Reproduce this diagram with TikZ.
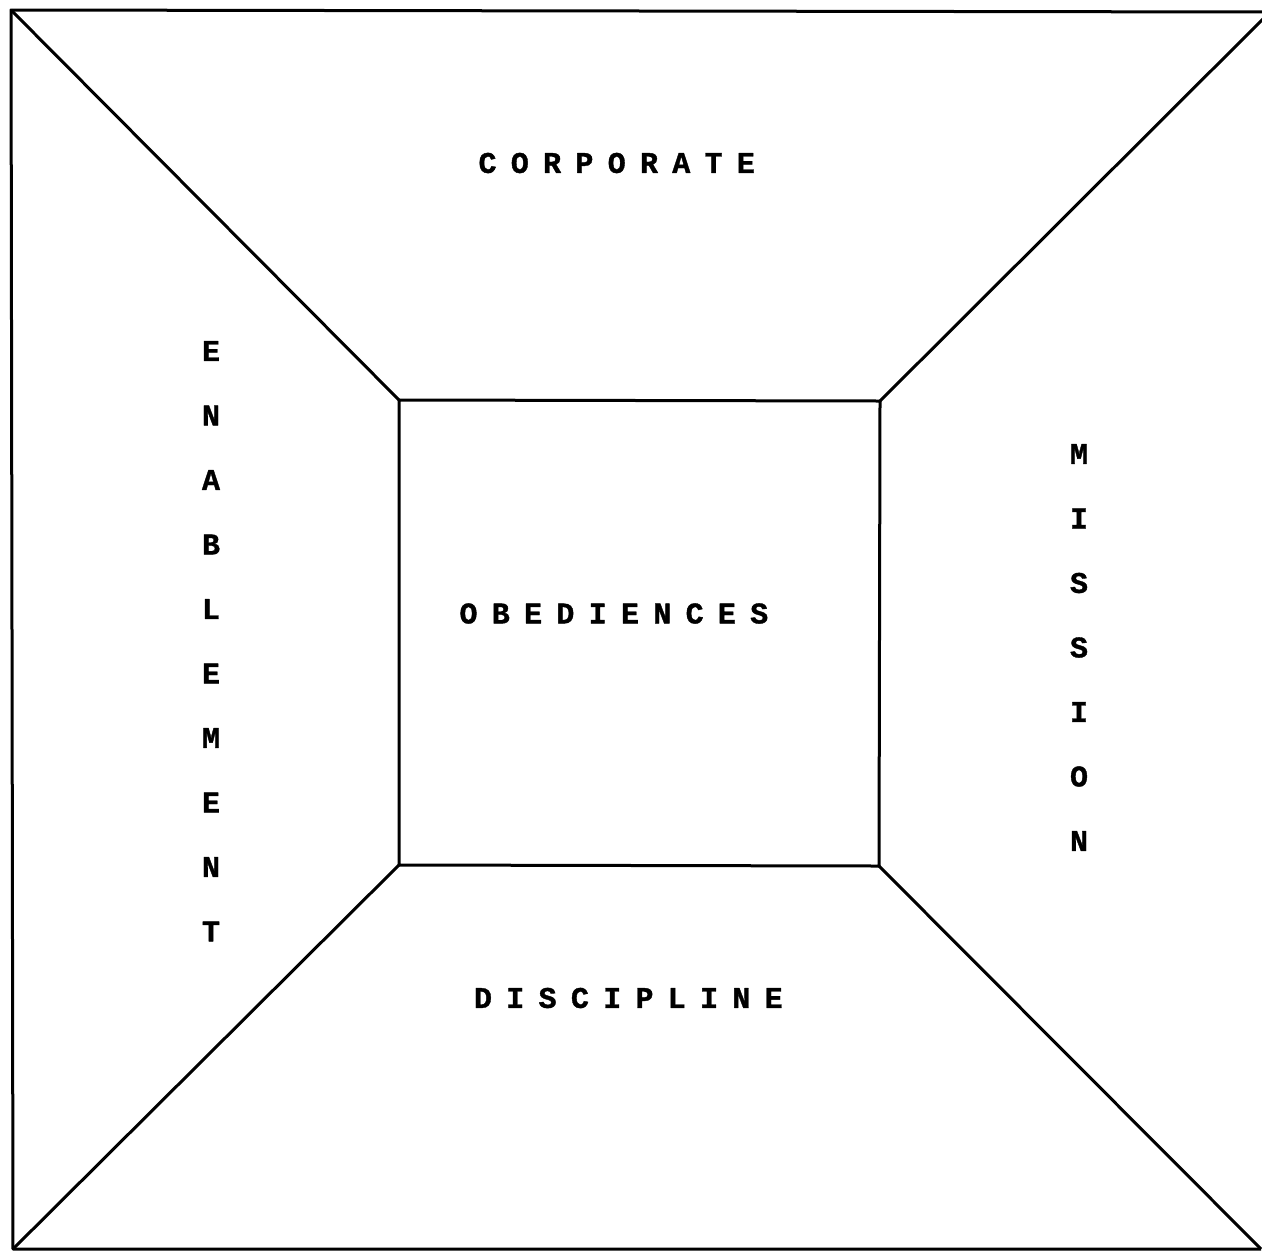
\documentclass[tikz,border=0pt]{standalone}
\usepackage{fontspec}
\newfontfamily\typewriter{Liberation Mono}[BoldFeatures={FakeBold=1.2}]

\begin{document}
\begin{tikzpicture}[x=0.5pt,y=-0.5pt,line width=1.5pt,line join=round,
  letter/.style={inner sep=0pt,font=\typewriter\bfseries\fontsize{15}{15}\selectfont}]
\useasboundingbox (0,0) rectangle (1262,1253);
\def\across#1#2#3#4{% name, x of first letter, y, letters
  \foreach \c [count=\i from 0] in {#4}
    \node[letter] (#1-\i) at (#2+\i*32.3,#3) {\c};}
\def\down#1#2#3#4{% name, x, y of first letter, letters
  \foreach \c [count=\i from 0] in {#4}
    \node[letter] (#1-\i) at (#2,#3+\i*64.5) {\c};}
% outer frame (its right side is cut off)
\coordinate (otl) at (11,10);
\coordinate (otr) at (1270,12);
\coordinate (obl) at (13,1249);
\coordinate (obr) at (1261,1249);
\draw (otr) -- (otl) -- (obl) -- (obr);
% inner square
\coordinate (itl) at (399,400);
\coordinate (itr) at (880,401);
\coordinate (ibl) at (399,865);
\coordinate (ibr) at (879,866);
\draw (itl) -- (itr) -- (ibr) -- (ibl) -- cycle;
% corner lines
\draw (otl) -- (itl);
\draw (otr) -- (itr);
\draw (obl) -- (ibl);
\draw (obr) -- (ibr);
% labels
\across{corp}{487.5}{163}{C,O,R,P,O,R,A,T,E}
\across{obed}{468.5}{613.5}{O,B,E,D,I,E,N,C,E,S}
\across{disc}{483}{998}{D,I,S,C,I,P,L,I,N,E}
\down{enab}{211}{351}{E,N,A,B,L,E,M,E,N,T}
\down{miss}{1079}{454}{M,I,S,S,I,O,N}
\end{tikzpicture}
\end{document}
